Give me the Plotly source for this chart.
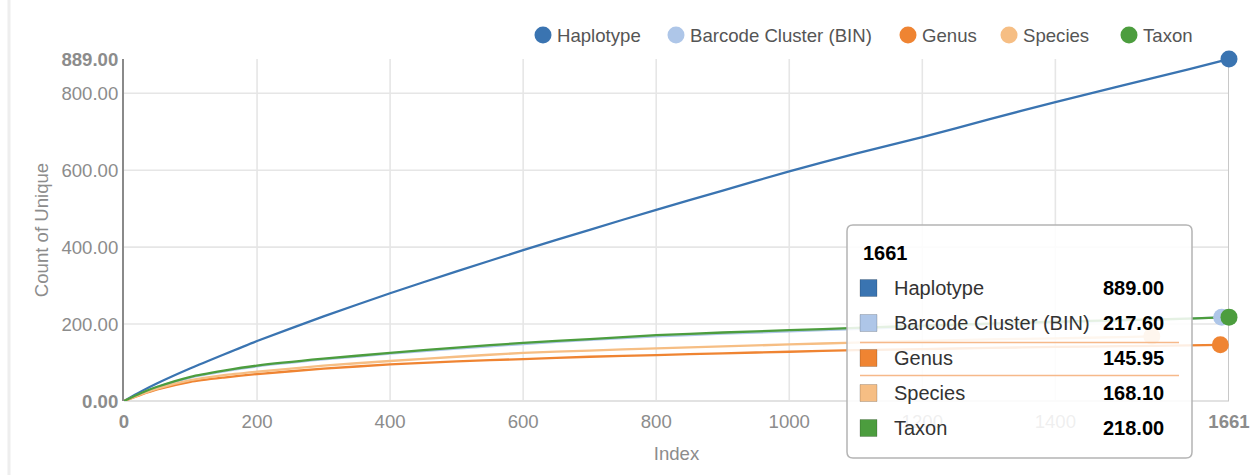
import plotly.graph_objects as go

# ---- data -------------------------------------------------------------
series_names = ["Haplotype", "Barcode Cluster (BIN)", "Genus", "Species", "Taxon"]
series_colors = ["#3a74b1", "#aec6e8", "#ef8432", "#f6be84", "#4c9d3e"]

haplotype_x = [0, 25, 50, 100, 150, 200, 300, 400, 500, 600, 700, 800, 900, 1000,
               1100, 1200, 1300, 1400, 1500, 1600, 1661]
haplotype_y = [0, 24, 46, 85, 121, 156, 220, 280, 337, 392, 445, 497, 547, 597,
               643, 686, 732, 777, 820, 862, 889.00]

bin_x = [0, 25, 50, 100, 150, 200, 300, 400, 500, 600, 700, 800, 900, 1000,
         1100, 1200, 1300, 1400, 1500, 1600, 1650]
bin_y = [0, 19, 36, 61, 77, 90, 108, 123, 136, 148, 159, 168, 175, 181,
         187, 193, 199, 204, 209, 214, 217.60]

genus_x = [0, 25, 50, 100, 150, 200, 300, 400, 500, 600, 700, 800, 900, 1000,
           1100, 1200, 1300, 1400, 1500, 1600, 1648]
genus_y = [0, 16, 30, 50, 61, 70, 84, 95, 103, 109, 115, 119.5, 124, 128,
           132, 135, 138, 140.5, 142.5, 144.5, 145.95]

species_x = [0, 25, 50, 100, 150, 200, 300, 400, 500, 600, 700, 800, 900, 1000,
             1100, 1200, 1300, 1400, 1500, 1545]
species_y = [0, 17, 32, 54, 67, 76, 92, 104, 115, 125, 131, 137, 142, 147,
             152, 156, 160, 163, 166, 168.10]

taxon_x = [0, 25, 50, 100, 150, 200, 300, 400, 500, 600, 700, 800, 900, 1000,
           1100, 1200, 1300, 1400, 1500, 1600, 1661]
taxon_y = [0, 20, 37, 63, 79, 92, 110, 125, 139, 151, 161, 171, 178, 184,
           190, 196, 201, 206, 210, 214, 218.00]

x_tick_vals = [0, 200, 400, 600, 800, 1000, 1200, 1400, 1661]
y_tick_vals = [0, 200, 400, 600, 800, 889]
tooltip_index = 1661

series_x = [haplotype_x, bin_x, genus_x, species_x, taxon_x]
series_y = [haplotype_y, bin_y, genus_y, species_y, taxon_y]

# ---- geometry helpers (pixel -> paper) ---------------------------------
W, H = 1256, 475
ML, MR, MT, MB = 124, 27, 59, 74
PW, PH = W - ML - MR, H - MT - MB


def px(xp):
    return (xp - ML) / PW


def py(yp):
    return (H - MB - yp) / PH


FONT = "Liberation Sans, Arial, sans-serif"
GREY = "#8c8c8c"
GRID = "#e6e6e6"

fig = go.Figure()

# lines
for name, color, xs, ys in zip(series_names, series_colors, series_x, series_y):
    fig.add_trace(go.Scatter(
        x=xs, y=ys, mode="lines", name=name,
        line=dict(color=color, width=2.3, shape="spline", smoothing=0.6),
        showlegend=False, hoverinfo="skip", cliponaxis=False,
    ))

# end-point markers
for name, color, xs, ys in zip(series_names, series_colors, series_x, series_y):
    fig.add_trace(go.Scatter(
        x=[xs[-1]], y=[ys[-1]], mode="markers", name=name,
        marker=dict(color=color, size=17, line=dict(width=0)),
        showlegend=False, hoverinfo="skip", cliponaxis=False,
    ))

shapes = []
# grid lines
for v in y_tick_vals[1:-1]:
    shapes.append(dict(type="line", xref="paper", yref="y", x0=0, x1=1, y0=v, y1=v,
                       line=dict(color=GRID, width=1.6), layer="below"))
for v in x_tick_vals[1:-1]:
    shapes.append(dict(type="line", xref="x", yref="paper", x0=v, x1=v, y0=0, y1=1,
                       line=dict(color=GRID, width=1.6), layer="below"))
# baseline
shapes.append(dict(type="line", xref="paper", yref="paper", x0=0, x1=1, y0=0, y1=0,
                   line=dict(color="#e2e2e2", width=2), layer="below"))
# hover guideline
shapes.append(dict(type="line", xref="x", yref="paper", x0=tooltip_index, x1=tooltip_index,
                   y0=0, y1=1, line=dict(color="#c8c8c8", width=2), layer="below"))
# outer frame edge on the left
shapes.append(dict(type="line", xref="paper", yref="paper", x0=px(9), x1=px(9),
                   y0=py(0), y1=py(H), line=dict(color="#eeeeee", width=3), layer="below"))

# legend (top right)
legend_cx = [543, 676, 908, 1009, 1129]
legend_cy = 35
r = 8.5
annotations = []
for name, color, cx in zip(series_names, series_colors, legend_cx):
    shapes.append(dict(type="circle", xref="paper", yref="paper",
                       x0=px(cx - r), x1=px(cx + r), y0=py(legend_cy + r), y1=py(legend_cy - r),
                       fillcolor=color, line=dict(width=0)))
    annotations.append(dict(xref="paper", yref="paper", x=px(cx + 12), y=py(legend_cy),
                            xanchor="left", yanchor="middle", showarrow=False,
                            text=name, font=dict(family=FONT, size=18.6, color="#555555")))

# tooltip box
bx0, by0, bx1, by1, rad = 847, 225, 1192, 458, 6
X0, X1, Y0, Y1 = px(bx0), px(bx1), py(by0), py(by1)
rx, ry = rad / PW, rad / PH
path = (f"M {X0 + rx},{Y0} L {X1 - rx},{Y0} Q {X1},{Y0} {X1},{Y0 - ry} "
        f"L {X1},{Y1 + ry} Q {X1},{Y1} {X1 - rx},{Y1} L {X0 + rx},{Y1} "
        f"Q {X0},{Y1} {X0},{Y1 + ry} L {X0},{Y0 - ry} Q {X0},{Y0} {X0 + rx},{Y0} Z")
shapes.append(dict(type="path", xref="paper", yref="paper", path=path,
                   fillcolor="rgba(255,255,255,0.86)", line=dict(color="#b4b4b4", width=1.5),
                   layer="above"))

annotations.append(dict(xref="paper", yref="paper", x=px(861), y=py(253),
                        xanchor="left", yanchor="middle", showarrow=False,
                        text=f"<b>{tooltip_index}</b>",
                        font=dict(family=FONT, size=20, color="#000000")))
row_y = [288, 323, 358, 393, 428]
for name, color, ys, ry_px in zip(series_names, series_colors, series_y, row_y):
    shapes.append(dict(type="rect", xref="paper", yref="paper",
                       x0=px(860), x1=px(877), y0=py(ry_px + 8.5), y1=py(ry_px - 8.5),
                       fillcolor=color, line=dict(color="rgba(0,0,0,0.18)", width=1),
                       layer="above"))
    annotations.append(dict(xref="paper", yref="paper", x=px(892), y=py(ry_px),
                            xanchor="left", yanchor="middle", showarrow=False,
                            text=name, font=dict(family=FONT, size=20, color="#333333")))
    annotations.append(dict(xref="paper", yref="paper", x=px(1166), y=py(ry_px),
                            xanchor="right", yanchor="middle", showarrow=False,
                            text=f"<b>{ys[-1]:.2f}</b>",
                            font=dict(family=FONT, size=20, color="#000000")))
# highlighted row separators (Genus)
for yy in (342.5, 375.5):
    shapes.append(dict(type="line", xref="paper", yref="paper", x0=px(860), x1=px(1179),
                       y0=py(yy), y1=py(yy), line=dict(color="#f6b98a", width=1.5),
                       layer="above"))


def fmt_y(v, i):
    s = f"{v:.2f}"
    return f"<b>{s}</b>" if i in (0, len(y_tick_vals) - 1) else s


def fmt_x(v, i):
    s = f"{v}"
    return f"<b>{s}</b>" if i in (0, len(x_tick_vals) - 1) else s


fig.update_layout(
    width=W, height=H,
    margin=dict(l=ML, r=MR, t=MT, b=MB, autoexpand=False),
    paper_bgcolor="white", plot_bgcolor="white",
    font=dict(family=FONT, size=18.6, color=GREY),
    hovermode=False,
    shapes=shapes,
    annotations=annotations,
    xaxis=dict(
        range=[0, 1661], showgrid=False, zeroline=False, showline=False,
        tickvals=x_tick_vals, ticktext=[fmt_x(v, i) for i, v in enumerate(x_tick_vals)],
        ticks="", ticklabelstandoff=7, tickfont=dict(family=FONT, size=18.6, color=GREY),
        title=dict(text="Index", standoff=16, font=dict(family=FONT, size=18.6, color=GREY)),
        automargin=False,
    ),
    yaxis=dict(
        range=[0, 889], showgrid=False, zeroline=False,
        showline=True, linecolor="#8a8a8a", linewidth=2,
        tickvals=y_tick_vals, ticktext=[fmt_y(v, i) for i, v in enumerate(y_tick_vals)],
        ticks="", tickfont=dict(family=FONT, size=18.6, color=GREY),
        title=dict(text="Count of Unique", standoff=8, font=dict(family=FONT, size=18.6, color=GREY)),
        automargin=False,
    ),
)

fig.write_html("out.html")
